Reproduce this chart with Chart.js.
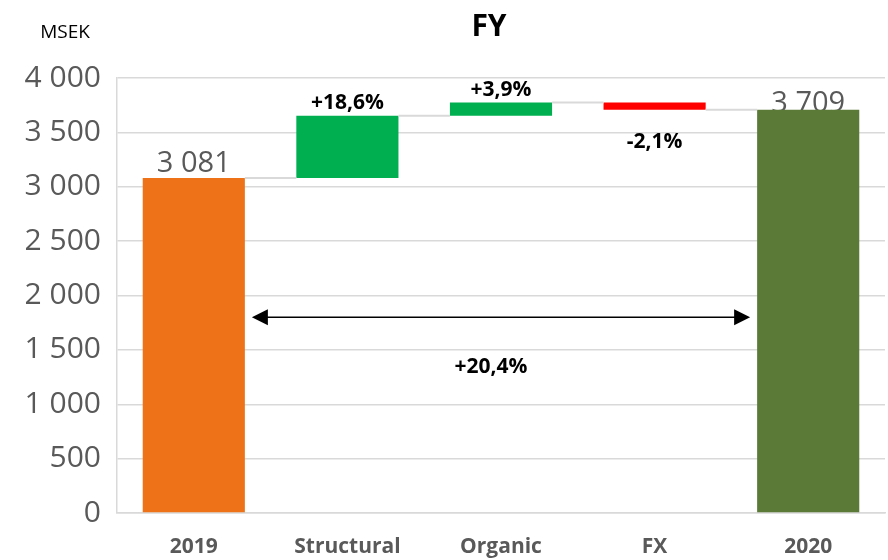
<!DOCTYPE html>
<html lang="sv">
<head>
<meta charset="UTF-8">
<title>FY</title>
<script src="https://cdn.jsdelivr.net/npm/chart.js"></script>
<style>body{margin:0;background:#fff}</style>
</head>
<body>
<canvas id="myChart" width="888" height="560"></canvas>
<script>
// Waterfall data (MSEK)
const categories = ['2019', 'Structural', 'Organic', 'FX', '2020'];
const startValue = 3081;
const changes = [573, 120, -65];
const endValue = 3709;
const changeLabels = ['+18,6%', '+3,9%', '-2,1%'];
const totalChangeLabel = '+20,4%';
const barColors = ['#ee7318', '#00b050', '#00b050', '#ff0000', '#5b7a38'];
const arrowLevel = 1800;

// floating bars + connector levels
let level = startValue;
const bars = [[0, startValue]];
const connectors = [startValue];
changes.forEach(c => {
    const next = level + c;
    bars.push([Math.min(level, next), Math.max(level, next)]);
    level = next;
    connectors.push(level);
});
bars.push([0, endValue]);

const fmt = v => String(v).replace(/\B(?=(\d{3})+(?!\d))/g, ' ');

const FONT = "'Open Sans', 'Noto Sans', sans-serif";

const waterfallExtras = {
    id: 'waterfallExtras',
    beforeDatasetsDraw(chart) {
        const ctx = chart.ctx;
        const meta = chart.getDatasetMeta(0);
        const top = chart.chartArea.top;
        // total value labels (drawn under bars, like the original)
        ctx.save();
        ctx.font = '29px ' + FONT;
        ctx.fillStyle = '#595959';
        ctx.textAlign = 'center';
        ctx.textBaseline = 'alphabetic';
        [0, bars.length - 1].forEach(i => {
            const el = meta.data[i];
            const y = Math.max(el.y - 6, top + 34);
            ctx.fillText(fmt(bars[i][1]), el.x, y);
        });
        ctx.restore();
    },
    afterDatasetsDraw(chart) {
        const ctx = chart.ctx;
        const meta = chart.getDatasetMeta(0);
        const yScale = chart.scales.y;
        ctx.save();
        // connectors
        ctx.strokeStyle = '#d9d9d9';
        ctx.lineWidth = 2;
        for (let i = 0; i < meta.data.length - 1; i++) {
            const a = meta.data[i], b = meta.data[i + 1];
            const y = yScale.getPixelForValue(connectors[i]);
            ctx.beginPath();
            ctx.moveTo(a.x + a.width / 2, y);
            ctx.lineTo(b.x - b.width / 2, y);
            ctx.stroke();
        }
        // change labels
        ctx.font = 'bold 21px ' + FONT;
        ctx.fillStyle = '#000';
        ctx.textAlign = 'center';
        ctx.textBaseline = 'middle';
        changes.forEach((c, k) => {
            const el = meta.data[k + 1];
            const t = Math.min(el.y, el.base), bt = Math.max(el.y, el.base);
            const y = c >= 0 ? t - 13 : bt + 32;
            ctx.fillText(changeLabels[k], el.x, y);
        });
        // double arrow
        const first = meta.data[0], last = meta.data[meta.data.length - 1];
        const x1 = first.x + first.width / 2 + 7;
        const x2 = last.x - last.width / 2 - 7;
        const ay = yScale.getPixelForValue(arrowLevel);
        ctx.strokeStyle = '#000';
        ctx.lineWidth = 1.5;
        ctx.beginPath();
        ctx.moveTo(x1 + 14, ay);
        ctx.lineTo(x2 - 14, ay);
        ctx.stroke();
        ctx.fillStyle = '#000';
        ctx.beginPath();
        ctx.moveTo(x1, ay); ctx.lineTo(x1 + 16, ay - 8); ctx.lineTo(x1 + 16, ay + 8); ctx.closePath();
        ctx.fill();
        ctx.beginPath();
        ctx.moveTo(x2, ay); ctx.lineTo(x2 - 16, ay - 8); ctx.lineTo(x2 - 16, ay + 8); ctx.closePath();
        ctx.fill();
        ctx.fillText(totalChangeLabel, (x1 + x2) / 2 - 10, ay + 50);
        // title and unit
        ctx.font = 'bold 30px ' + FONT;
        ctx.fillText('FY', 489, 27);
        ctx.font = '19px ' + FONT;
        ctx.fillText('MSEK', 65, 33);
        ctx.restore();
    }
};

new Chart(document.getElementById('myChart').getContext('2d'), {
    type: 'bar',
    data: {
        labels: categories,
        datasets: [{
            data: bars,
            backgroundColor: barColors,
            borderWidth: 0,
            barPercentage: 0.665,
            categoryPercentage: 1
        }]
    },
    options: {
        responsive: false,
        animation: false,
        layout: { padding: { top: 78, right: 3, bottom: 0, left: 0 } },
        plugins: {
            legend: { display: false },
            tooltip: { enabled: false }
        },
        scales: {
            x: {
                afterFit(axis) { axis.height = 47; },
                grid: { display: false, drawTicks: false },
                border: { color: '#d9d9d9', width: 1.5 },
                ticks: {
                    color: '#595959',
                    font: { family: FONT, size: 21, weight: 'bold' },
                    padding: 21
                }
            },
            y: {
                min: 0,
                max: 4000,
                afterFit(axis) { axis.width = 117; },
                grid: { color: '#d9d9d9', lineWidth: 1.5, drawTicks: false },
                border: { color: '#d9d9d9', width: 1.5 },
                ticks: {
                    stepSize: 500,
                    color: '#595959',
                    font: { family: FONT, size: 30 },
                    padding: 16,
                    callback: v => fmt(v)
                }
            }
        }
    },
    plugins: [waterfallExtras]
});
</script>
</body>
</html>
